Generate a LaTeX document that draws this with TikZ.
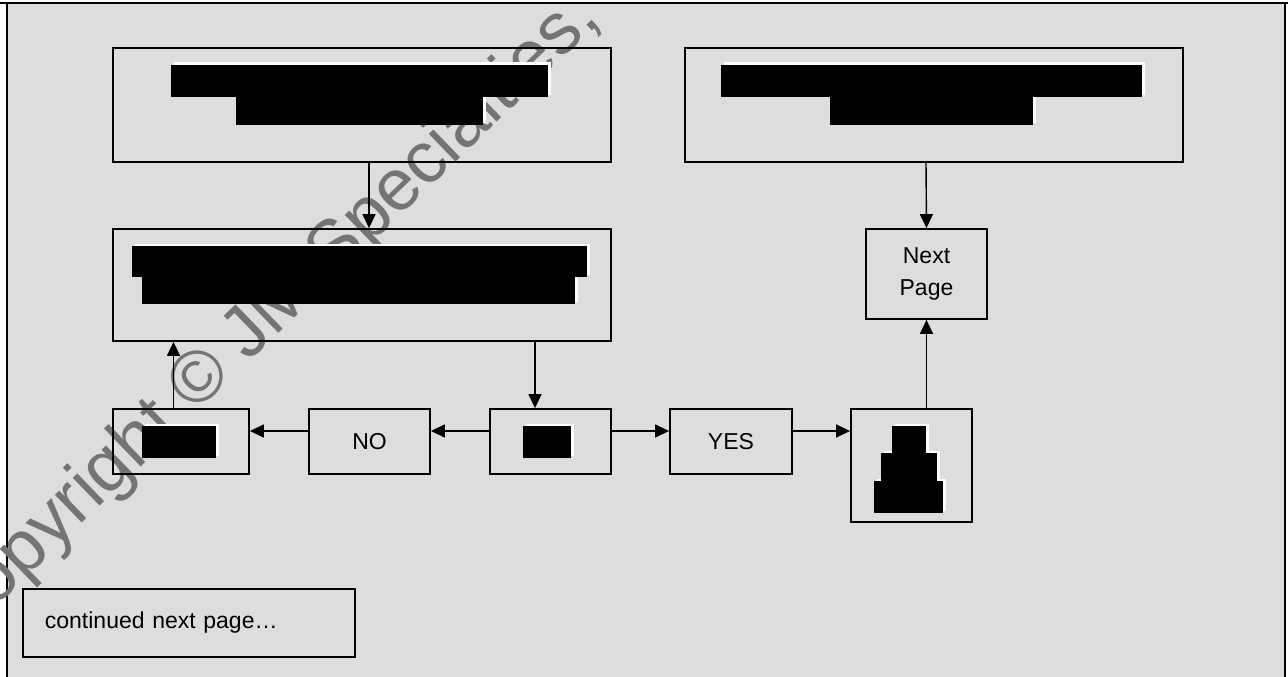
\documentclass[tikz,border=0pt]{standalone}
\usepackage{fontspec}
\setmainfont{Liberation Sans}
\usetikzlibrary{arrows.meta,calc}
\definecolor{bg}{HTML}{DDDDDD}
\definecolor{wm}{HTML}{747474}
\begin{document}
\begin{tikzpicture}[x=1pt,y=-1pt,
  box/.style={draw, line width=1.8pt, inner sep=0pt, font=\fontsize{23}{32}\selectfont, align=center},
  arr/.style={line width=1.4pt, -{Triangle[length=14pt,width=13pt]}},
  halo/.style={fill=white},
  redact/.style={fill=black}]
\useasboundingbox (0,0) rectangle (1288,677);
\clip (0,0) rectangle (1288,677);
\fill[white] (0,0) rectangle (1288,677);
\filldraw[fill=bg, draw=black, line width=1.8pt] (7,3) rectangle (1285,700);
\draw[line width=1.8pt] (0,3) -- (1288,3);
% watermark
\node[anchor=base west, rotate=44, inner sep=0pt, text=wm, font=\fontsize{73}{80}\selectfont] (wmark) at (-44,645) {Copyright © JM Specialties,};
% boxes
\node[box, minimum width=498pt, minimum height=114pt] (b1) at (362,105) {};
\node[box, minimum width=498pt, minimum height=112pt] (b2) at (362,285) {};
\node[box, minimum width=498pt, minimum height=114pt] (b3) at (934,105) {};
\node[box, minimum width=121pt, minimum height=90pt] (np) at (926.5,274) {Next\\Page};
\node[box, minimum width=136pt, minimum height=65pt] (lb) at (181,441.5) {};
\node[box, minimum width=121pt, minimum height=65pt] (no) at (369.5,441.5) {NO};
\node[box, minimum width=121pt, minimum height=65pt] (mid) at (550.5,441.5) {};
\node[box, minimum width=122pt, minimum height=65pt] (yes) at (731,441.5) {YES};
\node[box, minimum width=121pt, minimum height=113pt] (cake) at (911.5,465.5) {};
\node[box, anchor=west, text width=288pt, inner xsep=22pt, minimum height=68pt, align=left] (cont) at (22,623) {continued next page…};
% redaction halos
\foreach \a/\b/\c/\d in {171/65/548/97, 236/97/483/125, 132/246/587/277, 142/277/575/304,
  721/65/1142/97, 830/97/1033/125, 142/426/216/458, 523/426/571/458,
  892/426/926/453, 881/453/937/481, 874/481/943/513}
  \fill[halo] (\a+2.5,\b-2.5) rectangle (\c+2.5,\d-2.5);
\foreach \a/\b/\c/\d in {171/65/548/97, 236/97/483/125, 132/246/587/277, 142/277/575/304,
  721/65/1142/97, 830/97/1033/125, 142/426/216/458, 523/426/571/458,
  892/426/926/453, 881/453/937/481, 874/481/943/513}
  \fill[redact] (\a,\b) rectangle (\c,\d);
% connectors
\draw[arr] ([xshift=7pt]b1.south) -- ([xshift=7pt]b1.south |- b2.north);
\draw[arr] ([xshift=-8pt]b3.south) -- (np.north);
\draw[arr] (np.south |- cake.north) -- (np.south);
\draw[arr] ([xshift=-15.5pt]mid.north |- b2.south) -- ([xshift=-15.5pt]mid.north);
\draw[arr] ([xshift=-7.5pt]lb.north) -- ([xshift=-7.5pt]lb.north |- b2.south);
\draw[arr] ([yshift=10.5pt]mid.west) -- ([yshift=10.5pt]no.east);
\draw[arr] ([yshift=10.5pt]no.west) -- ([yshift=10.5pt]lb.east);
\draw[arr] ([yshift=10.5pt]mid.east) -- ([yshift=10.5pt]yes.west);
\draw[arr] ([yshift=10.5pt]yes.east) -- ([yshift=10.5pt]yes.east -| cake.west);
\end{tikzpicture}
\end{document}
